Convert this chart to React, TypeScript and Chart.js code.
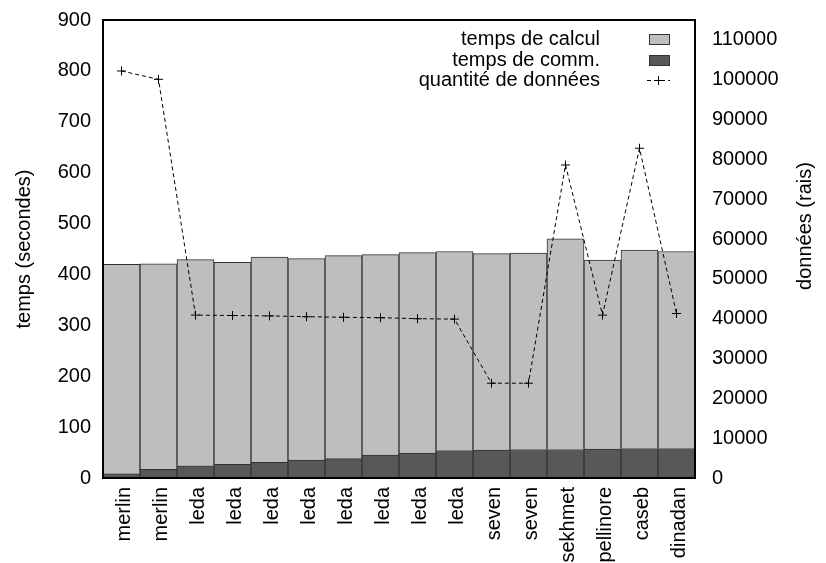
import React, { useEffect, useRef } from "react";
import { Chart, registerables } from "chart.js";

Chart.register(...registerables);

const categories = [
  "merlin", "merlin", "leda", "leda", "leda", "leda", "leda", "leda", "leda", "leda",
  "seven", "seven", "sekhmet", "pellinore", "caseb", "dinadan",
];
const commTimes = [8, 17, 24, 27, 31, 35, 38, 45, 49, 54, 55, 56, 56, 57, 58, 58];
const calcTimes = [412, 404, 405, 397, 403, 396, 399, 394, 394, 391, 386, 386, 414, 371, 390, 387];
const dataAmount = [102200, 100100, 40900, 40800, 40700, 40500, 40350, 40250, 40000, 39900, 23800, 23800, 78600, 40900, 82800, 41300];

const leftTicks = [0, 100, 200, 300, 400, 500, 600, 700, 800, 900];
const rightTicks = [0, 10000, 20000, 30000, 40000, 50000, 60000, 70000, 80000, 90000, 100000, 110000];

const FONT = '"Liberation Sans", Arial, Helvetica, sans-serif';
const CALC_COLOR = "#bebebe";
const COMM_COLOR = "#585858";
const EDGE_COLOR = "#333333";

const decorPlugin = {
  id: "decor",
  afterDatasetsDraw(chart: any) {
    const { ctx, chartArea } = chart;
    const { left, right, top, bottom } = chartArea;
    ctx.save();
    // frame
    ctx.strokeStyle = "#000";
    ctx.lineWidth = 2;
    ctx.setLineDash([]);
    ctx.strokeRect(left, top, right - left, bottom - top);

    ctx.font = "20px " + FONT;
    ctx.fillStyle = "#000";
    // axis titles
    ctx.save();
    ctx.translate(24, (top + bottom) / 2);
    ctx.rotate(-Math.PI / 2);
    ctx.textAlign = "center";
    ctx.textBaseline = "middle";
    ctx.fillText("temps (secondes)", 0, 0);
    ctx.restore();
    ctx.save();
    ctx.translate(805, 226);
    ctx.rotate(-Math.PI / 2);
    ctx.textAlign = "center";
    ctx.textBaseline = "middle";
    ctx.fillText("données (rais)", 0, 0);
    ctx.restore();

    // legend
    const textX = 600;
    const boxX = 649;
    const boxW = 20;
    const rows = [39, 60, 80];
    ctx.textAlign = "right";
    ctx.textBaseline = "middle";
    ctx.fillText("temps de calcul", textX, rows[0]);
    ctx.fillText("temps de comm.", textX, rows[1]);
    ctx.fillText("quantité de données", textX, rows[2]);
    ctx.lineWidth = 1;
    ctx.strokeStyle = EDGE_COLOR;
    ctx.fillStyle = CALC_COLOR;
    ctx.fillRect(boxX, rows[0] - 5, boxW, 10);
    ctx.strokeRect(boxX + 0.5, rows[0] - 5 + 0.5, boxW, 10);
    ctx.fillStyle = COMM_COLOR;
    ctx.fillRect(boxX, rows[1] - 5, boxW, 10);
    ctx.strokeRect(boxX + 0.5, rows[1] - 5 + 0.5, boxW, 10);
    ctx.strokeStyle = "#000";
    ctx.setLineDash([4, 3]);
    ctx.beginPath();
    ctx.moveTo(647, rows[2] + 0.5);
    ctx.lineTo(670, rows[2] + 0.5);
    ctx.stroke();
    ctx.setLineDash([]);
    ctx.beginPath();
    ctx.moveTo(658.5 - 4.5, rows[2] + 0.5);
    ctx.lineTo(658.5 + 4.5, rows[2] + 0.5);
    ctx.moveTo(658.5, rows[2] - 4);
    ctx.lineTo(658.5, rows[2] + 5);
    ctx.stroke();
    ctx.restore();
  },
};

export default function App() {
  const canvasRef = useRef<HTMLCanvasElement | null>(null);

  useEffect(() => {
    const canvas = canvasRef.current;
    if (!canvas) return;
    const chart = new Chart(canvas, {
      type: "bar",
      data: {
        labels: categories,
        datasets: [
          {
            type: "line",
            label: "quantité de données",
            data: dataAmount,
            yAxisID: "y1",
            borderColor: "#000",
            borderWidth: 1,
            borderDash: [4, 3],
            pointStyle: "cross",
            pointRadius: 4.5,
            pointBorderWidth: 1,
            pointBorderColor: "#000",
            fill: false,
            tension: 0,
            order: 0,
          } as any,
          {
            label: "temps de comm.",
            data: commTimes,
            backgroundColor: COMM_COLOR,
            borderColor: EDGE_COLOR,
            borderWidth: 1,
            yAxisID: "y",
            stack: "s",
            order: 1,
            barPercentage: 1,
            categoryPercentage: 1,
          },
          {
            label: "temps de calcul",
            data: calcTimes,
            backgroundColor: CALC_COLOR,
            borderColor: EDGE_COLOR,
            borderWidth: 1,
            yAxisID: "y",
            stack: "s",
            order: 1,
            barPercentage: 1,
            categoryPercentage: 1,
          },
        ],
      },
      options: {
        animation: false,
        responsive: false,
        maintainAspectRatio: false,
        layout: { padding: { top: 20, left: 0, right: 0, bottom: 0 } },
        plugins: {
          legend: { display: false },
          tooltip: { enabled: false },
          title: { display: false },
        },
        scales: {
          x: {
            stacked: true,
            grid: { display: false, drawTicks: false },
            border: { display: false },
            ticks: {
              autoSkip: false,
              minRotation: 90,
              maxRotation: 90,
              padding: 9,
              labelOffset: 3,
              color: "#000",
              font: { family: FONT, size: 20 },
            },
            afterFit: (scale: any) => {
              scale.height = 85;
              scale.paddingLeft = 0;
              scale.paddingRight = 0;
            },
          },
          y: {
            stacked: true,
            position: "left",
            min: 0,
            max: 900,
            grid: { display: false, drawTicks: false },
            border: { display: false },
            ticks: {
              padding: 12,
              color: "#000",
              font: { family: FONT, size: 20 },
              callback: (v: any) => String(v),
            },
            afterBuildTicks: (scale: any) => {
              scale.ticks = leftTicks.map((v) => ({ value: v }));
            },
            afterFit: (scale: any) => {
              scale.width = 103;
              scale.paddingTop = 0;
              scale.paddingBottom = 0;
            },
          },
          y1: {
            position: "right",
            min: 0,
            max: 115000,
            grid: { display: false, drawTicks: false },
            border: { display: false },
            ticks: {
              padding: 17,
              color: "#000",
              font: { family: FONT, size: 20 },
              callback: (v: any) => String(v),
            },
            afterBuildTicks: (scale: any) => {
              scale.ticks = rightTicks.map((v) => ({ value: v }));
            },
            afterFit: (scale: any) => {
              scale.width = 131;
              scale.paddingTop = 0;
              scale.paddingBottom = 0;
            },
          },
        },
      },
      plugins: [decorPlugin],
    });
    return () => chart.destroy();
  }, []);

  return (
    <div style={{ position: "absolute", left: 0, top: 0, width: 826, height: 563 }}>
      <canvas ref={canvasRef} width={826} height={563} style={{ width: 826, height: 563, display: "block" }} />
    </div>
  );
}
